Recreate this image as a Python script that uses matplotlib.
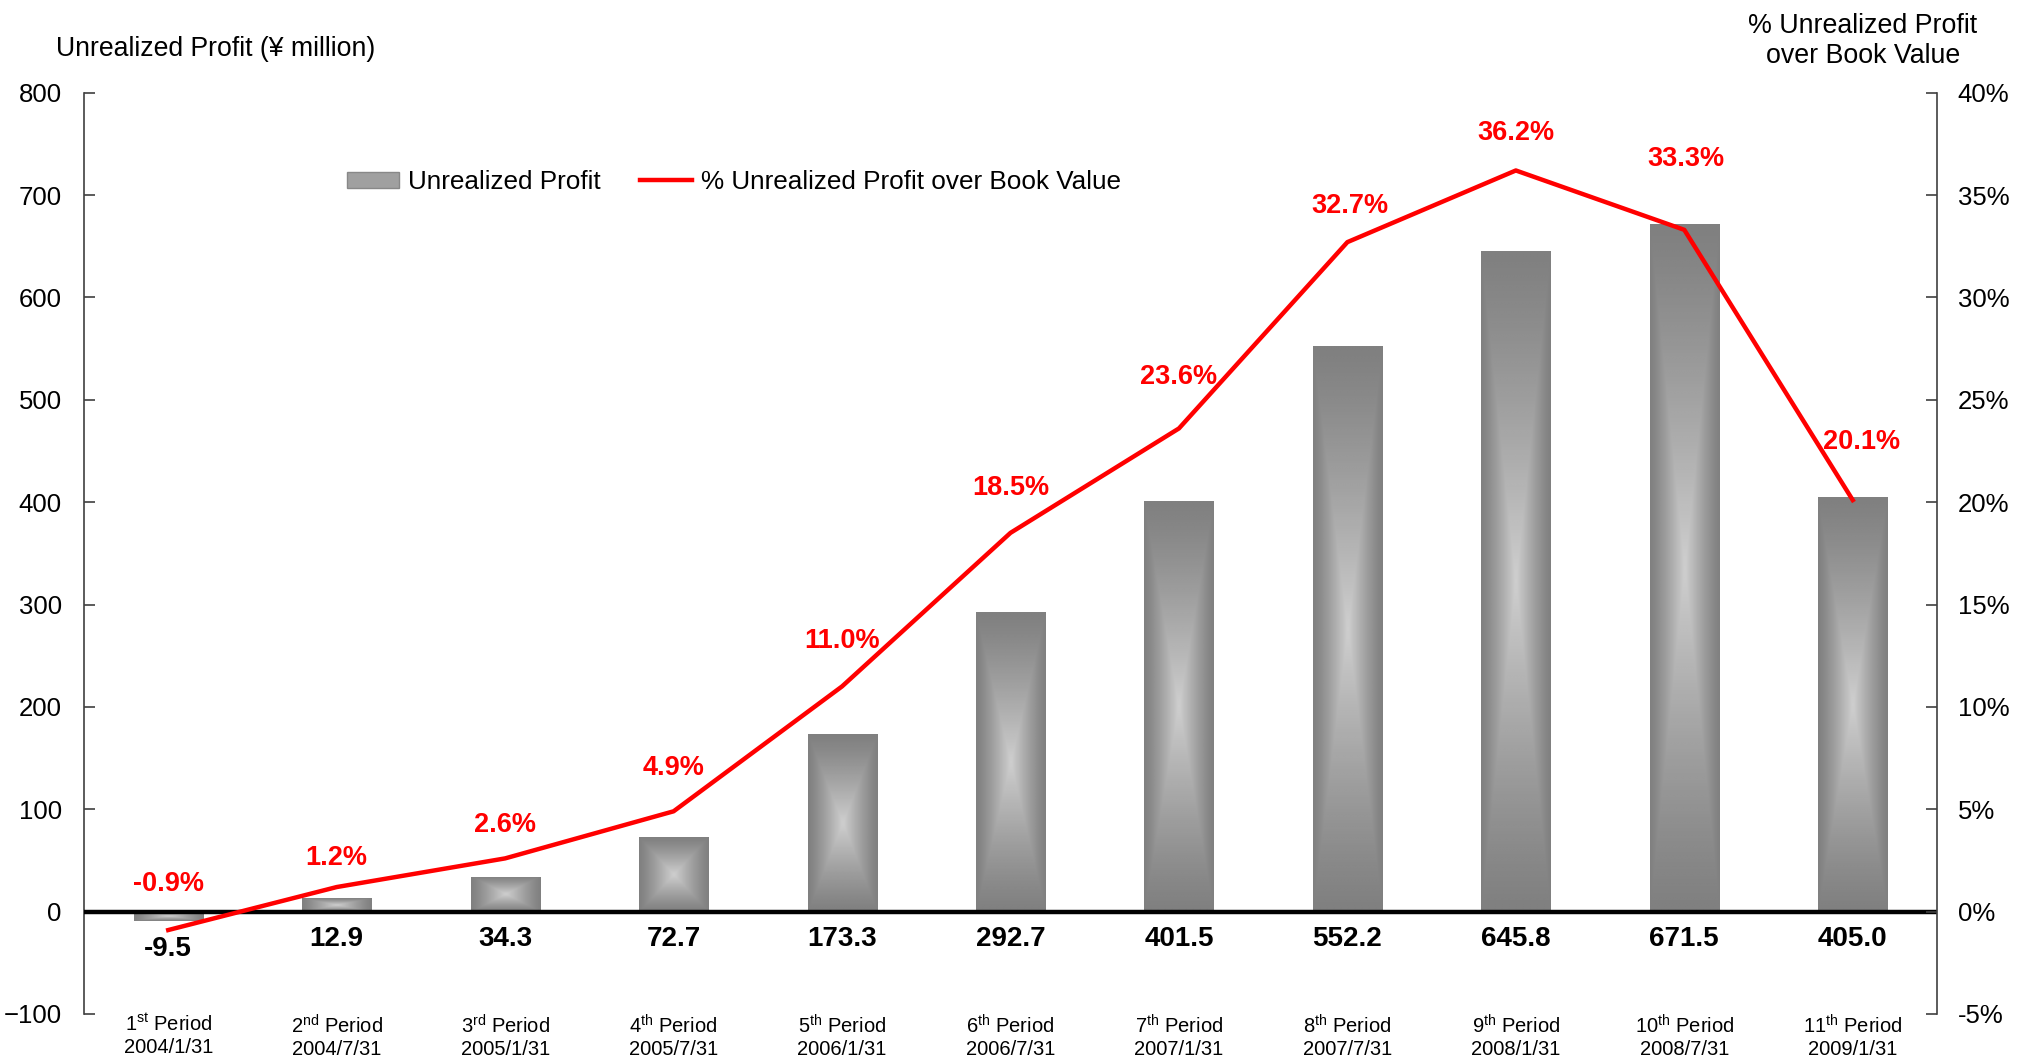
import numpy as np
import matplotlib
matplotlib.use("Agg")
import matplotlib.pyplot as plt
from matplotlib.patches import Patch
from matplotlib.lines import Line2D

plt.rcParams['font.family'] = ['Liberation Sans', 'DejaVu Sans']
plt.rcParams['mathtext.fontset'] = 'custom'
plt.rcParams['mathtext.rm'] = 'Liberation Sans'

# data
periods = ["1$^{\\mathrm{st}}$", "2$^{\\mathrm{nd}}$", "3$^{\\mathrm{rd}}$", "4$^{\\mathrm{th}}$",
           "5$^{\\mathrm{th}}$", "6$^{\\mathrm{th}}$", "7$^{\\mathrm{th}}$", "8$^{\\mathrm{th}}$",
           "9$^{\\mathrm{th}}$", "10$^{\\mathrm{th}}$", "11$^{\\mathrm{th}}$"]
dates = ["2004/1/31", "2004/7/31", "2005/1/31", "2005/7/31", "2006/1/31", "2006/7/31",
         "2007/1/31", "2007/7/31", "2008/1/31", "2008/7/31", "2009/1/31"]
profit = [-9.5, 12.9, 34.3, 72.7, 173.3, 292.7, 401.5, 552.2, 645.8, 671.5, 405.0]
pct = [-0.9, 1.2, 2.6, 4.9, 11.0, 18.5, 23.6, 32.7, 36.2, 33.3, 20.1]

# label offsets (points) above the line, as placed in the original
pct_label_dy = [33, 21, 24, 31, 33, 32, 37, 26, 27, 51, 42]
pct_label_dx = [0, 0, 0, 0, 0, 0, 0, 2, 0, 1, 6]

labels = [p + " Period\n" + d for p, d in zip(periods, dates)]
x = np.arange(len(profit))

fig = plt.figure(figsize=(20.34, 10.59), dpi=100)
ax1 = fig.add_axes([0.0413, 0.0425, 0.911, 0.870])
ax2 = ax1.twinx()

bars = ax1.bar(x, profit, width=0.41, color='#999999', zorder=2)

# "from center" gradient fill for each bar
n = 200
u = np.linspace(-1, 1, n)
U, V = np.meshgrid(u, u)
dist = np.maximum(np.abs(U), np.abs(V))
shade = 0.50 + 0.31 * (1 - dist) ** 1.2
for b in bars:
    x0, y0, w, h = b.get_x(), b.get_y(), b.get_width(), b.get_height()
    im = ax1.imshow(shade, cmap='gray', vmin=0, vmax=1, aspect='auto',
                    extent=[x0, x0 + w, y0, y0 + h], zorder=2.1, interpolation='bilinear')
    im.set_clip_path(b)

ax1.axhline(0, color='black', lw=3.2, zorder=3)

for xi, v in zip(x, profit):
    ax1.text(xi, min(v, 0) - 27, f"{v:.1f}", ha='center', va='center',
             fontsize=20, fontweight='bold', color='black', zorder=4)

ax1.set_xlim(-0.5, len(profit) - 0.5)
ax1.set_ylim(-100, 800)
ax1.set_yticks(np.arange(-100, 801, 100))
ax1.set_xticks(x)
ax1.set_xticklabels(labels, fontsize=14.5, linespacing=1.2)
ax1.tick_params(axis='x', length=0, pad=0)
ax1.tick_params(axis='y', direction='in', length=8, width=1.2, labelsize=18.5, pad=16,
                color='#404040')

ax2.plot(x, pct, color='#ff0000', lw=3.2, zorder=5)
for xi, p, dx, dy in zip(x, pct, pct_label_dx, pct_label_dy):
    ax2.annotate(f"{p:.1f}%", (xi, p), xytext=(dx, dy), textcoords='offset points',
                 ha='center', va='center', fontsize=19.5, fontweight='bold', color='#ff0000')
ax2.set_ylim(-5, 40)
ax2.set_yticks(np.arange(-5, 41, 5))
ax2.set_yticklabels([f"{t}%" for t in range(-5, 41, 5)])
ax2.tick_params(axis='y', direction='in', length=8, width=1.2, labelsize=18.5, pad=15,
                color='#404040')

for a in (ax1, ax2):
    a.spines['top'].set_visible(False)
    a.spines['bottom'].set_visible(False)
ax1.spines['right'].set_visible(False)
ax2.spines['left'].set_visible(False)
ax1.spines['left'].set_color('#404040')
ax1.spines['left'].set_linewidth(1.2)
ax2.spines['right'].set_color('#404040')
ax2.spines['right'].set_linewidth(1.2)

fig.text(56 / 2034, 1 - 49 / 1059, "Unrealized Profit (\u00a5 million)", fontsize=19.2,
         ha='left', va='center')
fig.text(1863 / 2034, 1 - 41 / 1059, "% Unrealized Profit\nover Book Value", fontsize=19.3,
         ha='center', va='center', linespacing=1.2)

handles = [Patch(facecolor='#a0a0a0', edgecolor='#888888'),
           Line2D([0], [0], color='#ff0000', lw=3.2)]
fig.legend(handles, ["Unrealized Profit", "% Unrealized Profit over Book Value"],
           loc='center left', bbox_to_anchor=(323 / 2034, 1 - 182 / 1059), ncol=2,
           frameon=False, fontsize=18.8, handlelength=2.0, handleheight=0.55,
           handletextpad=0.35, columnspacing=1.5)

fig.savefig("out.png", dpi=100)
